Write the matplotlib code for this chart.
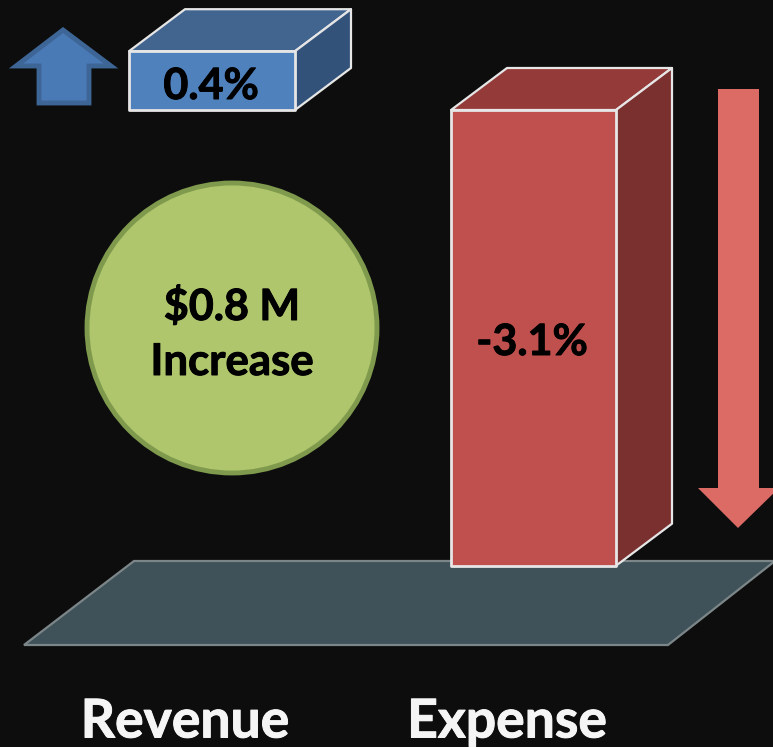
import matplotlib
matplotlib.use('Agg')
import matplotlib.pyplot as plt
from matplotlib.patches import Polygon, Circle
import matplotlib.patheffects as pe

plt.rcParams['font.family'] = ['Lato', 'DejaVu Sans']

# values in percent
categories = ['Revenue', 'Expense']
changes = [0.4, -3.1]
change_labels = ['0.4%', '-3.1%']
callout_lines = ['$0.8 M', 'Increase']

W, H = 773, 747
BG = '#0d0d0d'
zero_y = 110          # pixel row of 0 %
px_per_pct = 147
dx, dy = 56, -42      # box depth

fig = plt.figure(figsize=(W / 100, H / 100), dpi=100, facecolor=BG)
ax = fig.add_axes([0, 0, 1, 1])
ax.set_xlim(0, W)
ax.set_ylim(H, 0)
ax.axis('off')


def box(x0, x1, value, front, top, side):
    y0 = zero_y - max(value, 0) * px_per_pct
    y1 = zero_y - min(value, 0) * px_per_pct
    ec = '#e6e6e6'
    ax.add_patch(Polygon([(x0, y0), (x1, y0), (x1 + dx, y0 + dy), (x0 + dx, y0 + dy)],
                         fc=top, ec=ec, lw=1.6, joinstyle='round', zorder=3))
    ax.add_patch(Polygon([(x1, y0), (x1 + dx, y0 + dy), (x1 + dx, y1 + dy), (x1, y1)],
                         fc=side, ec=ec, lw=1.6, joinstyle='round', zorder=3))
    ax.add_patch(Polygon([(x0, y0), (x1, y0), (x1, y1), (x0, y1)],
                         fc=front, ec=ec, lw=2, joinstyle='round', zorder=4))


def label(x, y, s, size, color='black'):
    t = ax.text(x, y, s, ha='center', va='center', fontsize=size, fontweight='bold',
                color=color, zorder=5)
    # Calibri bold in the slide is a bit heavier than Lato bold
    t.set_path_effects([pe.withStroke(linewidth=0.7, foreground=color)])


# floor
ax.add_patch(Polygon([(134, 561), (775, 561), (668, 645), (24, 645)],
                     fc='#3f5259', ec='#7c8688', lw=1.6, zorder=1))

box(129, 295, changes[0], '#4f81bd', '#41658f', '#33527a')
box(451, 616, changes[1], '#c0504d', '#943b39', '#7a302e')

# up arrow
ax.add_patch(Polygon([(63, 30), (16, 66), (39, 66), (39, 103), (89, 103), (89, 66), (111, 66)],
                     fc='#4a7ab5', ec='#3d6596', lw=3.5, joinstyle='miter', zorder=2))
# down arrow
ax.add_patch(Polygon([(718, 89), (759, 89), (759, 488), (779, 488), (738, 528), (698, 488), (718, 488)],
                     fc='#dc6b66', ec='none', zorder=2))

# callout
ax.add_patch(Circle((232, 328), 145, fc='#afc66c', ec='#7f9a4d', lw=3.5, zorder=2))
label(232, 306, callout_lines[0].replace('$', r'\$'), 31)
label(232, 362, callout_lines[1], 31.5)

label(211, 86, change_labels[0], 31)
label(532, 342, change_labels[1], 31)

label(185, 722, categories[0], 38.5, '#f5f5f5')
label(507, 722, categories[1], 38.5, '#f5f5f5')

fig.savefig('out.png', dpi=100, facecolor=BG)
